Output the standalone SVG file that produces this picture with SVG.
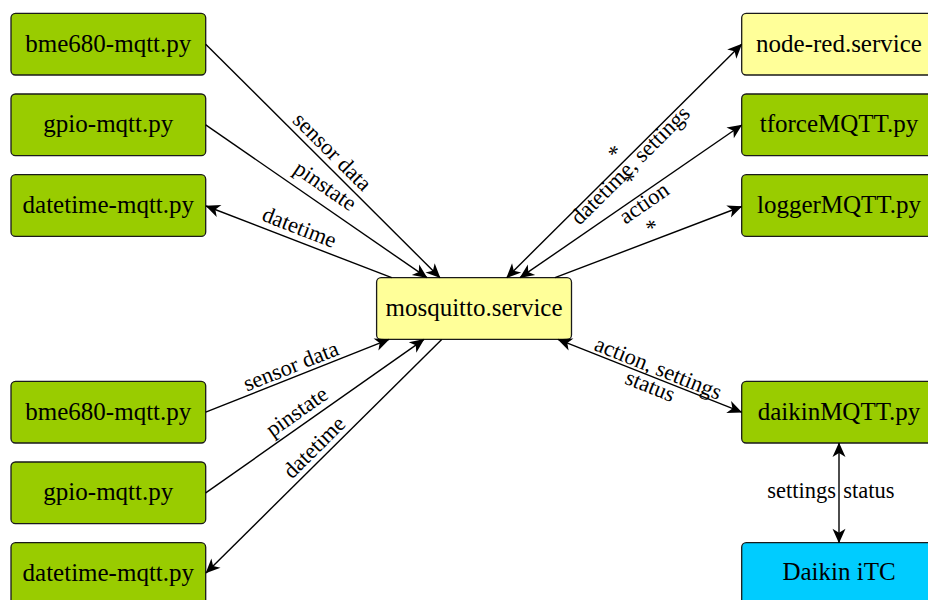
<svg xmlns="http://www.w3.org/2000/svg" width="928" height="600" viewBox="0 0 928 600">
  <style>
    .box rect { stroke: #1a1a1a; stroke-width: 1.3; }
    .py rect { fill: #99cc00; }
    .svc rect { fill: #ffff99; }
    .dev rect { fill: #00ccff; }
    .box text { font-family: "Liberation Serif", "DejaVu Serif", "Noto Serif", "Times New Roman", serif; font-size: 25px; text-anchor: middle; fill: #000; }
    .edge { stroke: #000; stroke-width: 1.4; fill: none; }
    .lbl { font-family: "Liberation Serif", "DejaVu Serif", "Noto Serif", "Times New Roman", serif; font-size: 22.5px; text-anchor: middle; fill: #000; }
  </style>
  <defs>
    <marker id="stealth" markerUnits="userSpaceOnUse" markerWidth="18" markerHeight="16" viewBox="-16 -8 18 16" refX="0" refY="0" orient="auto-start-reverse" overflow="visible">
      <path d="M0.5,0 L-14,-6.5 L-10,0 L-14,6.5 Z" fill="#000"/>
    </marker>
  </defs>

  <!-- publishers / subscribers on the left -->
  <g id="bme680-top" class="box py"><rect x="11" y="13.3" width="194.7" height="61.7" rx="4.5"/><text x="108.3" y="51.7">bme680-mqtt.py</text></g>
  <g id="gpio-top" class="box py"><rect x="11" y="94" width="194.7" height="61.7" rx="4.5"/><text x="108.3" y="132.4">gpio-mqtt.py</text></g>
  <g id="datetime-top" class="box py"><rect x="11" y="174.7" width="194.7" height="61.7" rx="4.5"/><text x="108.3" y="213.1">datetime-mqtt.py</text></g>
  <g id="bme680-bottom" class="box py"><rect x="11" y="381.3" width="194.7" height="61.7" rx="4.5"/><text x="108.3" y="419.7">bme680-mqtt.py</text></g>
  <g id="gpio-bottom" class="box py"><rect x="11" y="462" width="194.7" height="61.7" rx="4.5"/><text x="108.3" y="500.4">gpio-mqtt.py</text></g>
  <g id="datetime-bottom" class="box py"><rect x="11" y="542.7" width="194.7" height="61.7" rx="4.5"/><text x="108.3" y="581.1">datetime-mqtt.py</text></g>

  <!-- broker -->
  <g id="mosquitto" class="box svc"><rect x="376.6" y="277.7" width="194.9" height="61.7" rx="4.5"/><text x="474" y="316">mosquitto.service</text></g>

  <!-- right side -->
  <g id="node-red" class="box svc"><rect x="741.7" y="13.3" width="194.7" height="61.7" rx="4.5"/><text x="839" y="51.7">node-red.service</text></g>
  <g id="tforce" class="box py"><rect x="741.7" y="94" width="194.7" height="61.7" rx="4.5"/><text x="839" y="132.4">tforceMQTT.py</text></g>
  <g id="logger" class="box py"><rect x="741.7" y="174.7" width="194.7" height="61.7" rx="4.5"/><text x="839" y="213.1">loggerMQTT.py</text></g>
  <g id="daikin" class="box py"><rect x="741.7" y="381.3" width="194.7" height="61.7" rx="4.5"/><text x="839" y="419.7">daikinMQTT.py</text></g>
  <g id="daikin-itc" class="box dev"><rect x="741.7" y="542.7" width="194.7" height="61.7" rx="4.5"/><text x="839" y="580">Daikin iTC</text></g>

  <!-- connectors -->
  <g id="connectors">
    <line class="edge" x1="205.7" y1="44.2" x2="440" y2="277.7" marker-end="url(#stealth)"/>
    <line class="edge" x1="205.7" y1="124.9" x2="427" y2="277.7" marker-end="url(#stealth)"/>
    <line class="edge" x1="391.7" y1="277.7" x2="206" y2="206" marker-end="url(#stealth)"/>
    <line class="edge" x1="205.7" y1="412.2" x2="389" y2="339.4" marker-end="url(#stealth)"/>
    <line class="edge" x1="205.7" y1="492.9" x2="424" y2="339.4" marker-end="url(#stealth)"/>
    <line class="edge" x1="441.7" y1="339.4" x2="206" y2="573" marker-end="url(#stealth)"/>
    <line class="edge" x1="506.7" y1="277.7" x2="741.7" y2="44.2" marker-start="url(#stealth)" marker-end="url(#stealth)"/>
    <line class="edge" x1="520" y1="277.7" x2="741.7" y2="125" marker-start="url(#stealth)" marker-end="url(#stealth)"/>
    <line class="edge" x1="555" y1="277.7" x2="741.7" y2="206.5" marker-end="url(#stealth)"/>
    <line class="edge" x1="558" y1="339.4" x2="741.7" y2="412.2" marker-start="url(#stealth)" marker-end="url(#stealth)"/>
    <line class="edge" x1="839" y1="443" x2="839" y2="542.7" marker-start="url(#stealth)" marker-end="url(#stealth)"/>

    <!-- edge labels -->
    <text class="lbl" transform="translate(332.5 151.5) rotate(44.9)" y="7.6">sensor data</text>
    <text class="lbl" transform="translate(324 187.5) rotate(34.6)" y="5.2">pinstate</text>
    <text class="lbl" transform="translate(299.5 227) rotate(21.2)" y="7.6">datetime</text>
    <text class="lbl" transform="translate(290.8 365.8) rotate(-21.8)" y="7.6">sensor data</text>
    <text class="lbl" transform="translate(298 413.3) rotate(-35.2)" y="5.2">pinstate</text>
    <text class="lbl" transform="translate(314 447) rotate(-44.8)" y="7.6">datetime</text>
    <text class="lbl" transform="translate(612.7 150) rotate(-44.9)" y="11.3">*</text>
    <text class="lbl" transform="translate(631.7 166.7) rotate(-44.9)" y="5.2">datetime, settings</text>
    <text class="lbl" transform="translate(629.3 176.7) rotate(-34.7)" y="11.3">*</text>
    <text class="lbl" transform="translate(644.2 203.3) rotate(-34.7)" y="7">action</text>
    <text class="lbl" transform="translate(650.7 224) rotate(-21.2)" y="11.3">*</text>
    <text class="lbl" transform="translate(657.5 370) rotate(21.9)" y="5.2">action, settings</text>
    <text class="lbl" transform="translate(650 386.5) rotate(21.9)" y="6.7">status</text>
    <text class="lbl" x="836" y="498.3" style="text-anchor:end">settings</text>
    <text class="lbl" x="843.3" y="498.3" style="text-anchor:start">status</text>
  </g>
</svg>
